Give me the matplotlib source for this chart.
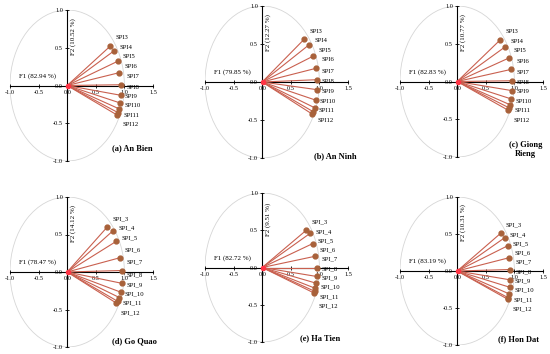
import matplotlib
matplotlib.use('Agg')
import matplotlib.pyplot as plt
from matplotlib.patches import Circle

plt.rcParams['font.family'] = ['Liberation Serif', 'DejaVu Serif']

# Panel data: loadings on F1 / F2 for SPI3 ... SPI12
panel_titles = ['(a) An Bien', '(b) An Ninh', '(c) Giong\nRieng',
                '(d) Go Quao', '(e) Ha Tien', '(f) Hon Dat']
f1_pct = [82.94, 79.85, 82.83, 78.47, 82.72, 83.19]
f2_pct = [10.52, 12.27, 10.77, 14.12, 9.51, 10.31]

names_top = ['SPI3', 'SPI4', 'SPI5', 'SPI6', 'SPI7', 'SPI8', 'SPI9', 'SPI10', 'SPI11', 'SPI12']
names_bottom = ['SPI_3', 'SPI_4', 'SPI_5', 'SPI_6', 'SPI_7', 'SPI_8', 'SPI_9', 'SPI_10', 'SPI_11', 'SPI_12']

x_an_bien = [0.75, 0.82, 0.88, 0.91, 0.94, 0.94, 0.92, 0.91, 0.89, 0.87]
y_an_bien = [0.52, 0.46, 0.32, 0.17, 0.01, -0.13, -0.23, -0.31, -0.36, -0.39]

x_an_ninh = [0.73, 0.82, 0.89, 0.94, 0.95, 0.95, 0.94, 0.92, 0.89, 0.87]
y_an_ninh = [0.56, 0.49, 0.34, 0.18, 0.03, -0.10, -0.24, -0.34, -0.39, -0.42]

x_giong_rieng = [0.75, 0.84, 0.90, 0.94, 0.95, 0.95, 0.94, 0.93, 0.91, 0.89]
y_giong_rieng = [0.55, 0.46, 0.31, 0.16, 0.01, -0.12, -0.23, -0.31, -0.35, -0.38]

x_go_quao = [0.70, 0.80, 0.86, 0.92, 0.95, 0.95, 0.94, 0.91, 0.88, 0.85]
y_go_quao = [0.60, 0.55, 0.41, 0.19, 0.02, -0.15, -0.27, -0.34, -0.39, -0.41]

x_ha_tien = [0.77, 0.84, 0.88, 0.92, 0.95, 0.95, 0.94, 0.93, 0.92, 0.90]
y_ha_tien = [0.50, 0.46, 0.32, 0.15, 0.00, -0.12, -0.21, -0.28, -0.32, -0.34]

x_hon_dat = [0.76, 0.83, 0.88, 0.91, 0.93, 0.93, 0.92, 0.91, 0.89, 0.88]
y_hon_dat = [0.51, 0.45, 0.34, 0.18, 0.02, -0.12, -0.22, -0.31, -0.36, -0.38]

xs = [x_an_bien, x_an_ninh, x_giong_rieng, x_go_quao, x_ha_tien, x_hon_dat]
ys = [y_an_bien, y_an_ninh, y_giong_rieng, y_go_quao, y_ha_tien, y_hon_dat]
names = [names_top] * 3 + [names_bottom] * 3

# layout (pixels of a 550x354 figure): left, top, bottom of each axes
boxes = [(10, 10, 161), (205, 6, 158), (400, 6, 157),
         (10, 197, 347), (205, 193, 342), (400, 197, 345)]
title_pos = [(0.79, -0.83, 'left'), (0.91, -0.97, 'left'), (1.19, -0.9, 'center'),
             (0.79, -0.92, 'left'), (0.66, -0.95, 'left'), (0.72, -0.92, 'left')]

line_col = '#c9604f'
dot_col = '#a8613a'

fig = plt.figure(figsize=(5.5, 3.54), dpi=100)

for i in range(6):
    left, top, bottom = boxes[i]
    ax = fig.add_axes([left / 550, (354 - bottom) / 354, 143 / 550, (bottom - top) / 354])
    ax.set_xlim(-1.0, 1.5)
    ax.set_ylim(-1.0, 1.0)
    ax.patch.set_alpha(0)

    for s in ['top', 'right']:
        ax.spines[s].set_visible(False)
    ax.spines['left'].set_position(('data', 0))
    ax.spines['bottom'].set_position(('data', 0))
    ax.spines['left'].set_linewidth(0.8)
    ax.spines['bottom'].set_linewidth(0.8)
    ax.set_xticks([-1.0, -0.5, 0.0, 0.5, 1.0, 1.5])
    ax.set_yticks([-1.0, -0.5, 0.0, 0.5, 1.0])
    ax.set_xticklabels(['-1.0', '-0.5', '0.0', '0.5', '1.0', '1.5'])
    ax.set_yticklabels(['-1.0', '-0.5', '0.0', '0.5', '1.0'])
    ax.tick_params(direction='inout', length=3, width=0.6, labelsize=4.5, pad=1.5)

    ax.add_patch(Circle((0, 0), 1.0, fill=False, color='#d6d6d6', lw=0.6))

    px = xs[i]
    py = ys[i]
    for k in range(len(px)):
        ax.plot([0, px[k]], [0, py[k]], color=line_col, lw=0.8, zorder=3)
    ax.plot(px, py, 'o', color=dot_col, ms=3.5, zorder=4)
    ax.plot([0.02], [0.0], 'o', color='#ff3344', ms=3, zorder=5)

    # variable labels, pushed apart vertically
    ly_prev = None
    for k in range(len(px)):
        ly = py[k] + 0.11
        if ly_prev is not None:
            ly = min(ly, ly_prev - 0.125)
        ly_prev = ly
        ax.text(px[k] + 0.09, ly, names[i][k], fontsize=4.8, va='center', ha='left')

    ax.text(-0.85, 0.13, 'F1 (%.2f %%)' % f1_pct[i], fontsize=5, va='center', ha='left')
    ax.text(0.1, 0.65, 'F2 (%.2f %%)' % f2_pct[i], fontsize=5, va='center', ha='center',
            rotation=90)

    tx, ty, tha = title_pos[i]
    ax.text(tx, ty, panel_titles[i], fontsize=6, fontweight='bold', va='center', ha=tha,
            multialignment='center')

fig.savefig('out.png', dpi=100)
